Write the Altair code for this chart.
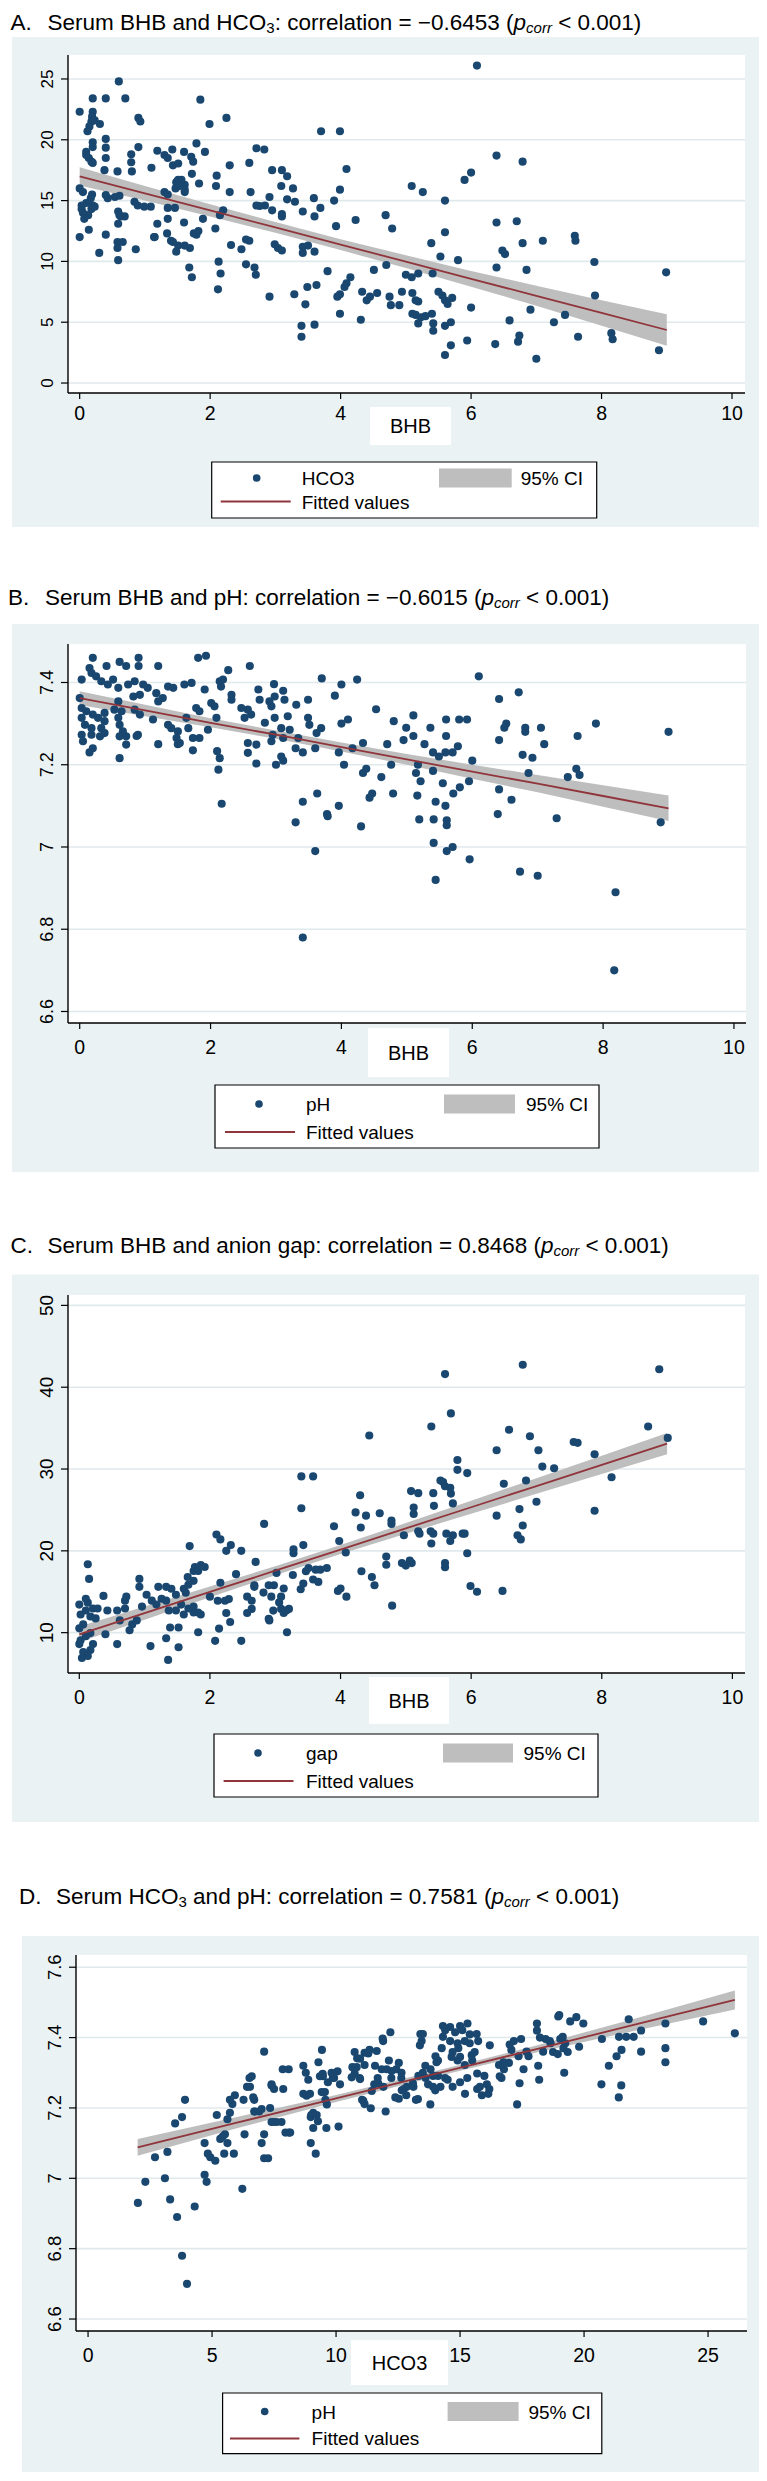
import altair as alt
import pandas as pd

FONT = "Liberation Sans, Arial, Helvetica, sans-serif"
NAVY = "#1a476f"
MAROON = "#90353b"
CI_GREY = "#bebebe"
BG = "#eaf2f3"
GRID = "#e0e9ec"

# ------------------------------------------------------------------ data
# Panel A: BHB (x) vs HCO3 (y)
A_PTS = [
(0.60,24.8),(0.20,23.4),(0.40,23.4),(0.70,23.4),(1.85,23.3),(0.0,22.3),
(0.2,22.3),(0.19,21.9),(0.18,21.5),(0.15,21.1),(0.12,20.7),(0.31,21.3),(0.23,21.6),
(0.9,21.8),(0.93,21.5),(1.99,21.3),(2.25,21.8),(3.7,20.7),(3.99,20.7),
(0.2,19.8),(0.2,19.4),(0.4,20.07),(0.4,19.35),(0.4,18.5),(0.9,19.4),(1.19,19.1),(1.42,19.2),(1.79,19.7),(1.92,19.0),(1.6,19.0),
(0.1,19.0),(0.1,18.75),(0.14,18.5),(0.18,18.2),(0.2,18.1),
(0.79,18.8),(0.79,18.15),(0.8,17.4),(1.1,17.7),
(1.3,18.75),(1.35,18.5),(1.43,17.9),(1.51,18.05),
(1.71,18.6),(1.74,18.2),(1.72,17.2),(1.83,16.4),
(1.61,16.3),(1.56,16.7),(1.5,16.6),(1.47,16.0),(1.61,15.7),
(0.58,17.4),(0.38,17.5),(2.3,17.9),(2.6,18.1),(2.71,19.3),(2.83,19.2),
(2.1,17.05),(2.09,16.2),(2.3,15.7),(2.62,15.7),(2.95,17.5),(3.1,17.5),(3.18,17.0),(3.09,16.2),(3.27,16.0),
(2.91,15.3),(2.84,14.6),(2.95,14.2),(2.71,14.6),(2.76,14.55),(3.18,15.1),(3.3,14.9),(3.1,13.9),(3.1,13.7),(3.42,14.1),(3.59,15.2),(3.69,14.4),(3.6,13.7),
(0.0,16.0),(0.05,15.7),
(0.03,14.6),(0.03,14.3),(0.05,14.0),(0.13,13.8),(0.07,13.5),(0.18,14.3),(0.2,14.6),(0.23,14.5),(0.19,15.5),(0.17,15.2),(0.1,14.8),
(0.4,15.45),(0.43,15.2),(0.54,15.3),(0.61,15.4),
(0.59,14.1),(0.63,13.7),(0.69,13.7),(0.59,13.1),(0.61,13.8),
(0.84,14.9),(0.89,14.6),(0.99,14.5),(1.09,14.5),
(1.3,15.7),(1.35,15.5),(1.35,14.4),(1.46,14.4),(1.51,16.7),(1.48,16.5),(1.53,16.2),(1.61,15.9),
(1.19,13.1),(1.15,12.0),(1.35,13.5),(1.34,12.3),(1.4,11.7),(1.43,11.6),(1.51,11.3),(1.48,10.8),(1.61,11.3),(1.6,13.2),
(1.69,11.1),(1.75,12.3),(1.79,12.2),(1.82,12.5),(1.89,13.5),(2.08,12.7),(2.15,13.8),(2.2,14.2),
(2.32,11.35),(2.48,11.0),(2.55,11.8),(2.6,11.7),(2.55,9.76),(2.68,9.5),(2.7,8.9),
(2.99,11.4),(3.04,11.1),(3.1,10.9),(3.42,11.2),(3.42,10.7),(3.5,11.3),(3.6,10.8),
(0.0,12.0),(0.14,12.6),(0.4,12.2),(0.3,10.7),(0.58,11.6),(0.66,11.6),(0.58,11.1),(0.59,10.1),(0.86,11.0),(1.14,12.0),
(1.68,9.5),(1.72,8.7),(2.13,9.98),(2.16,9.0),(2.12,7.7),(2.91,7.1),(3.29,7.3),(3.46,6.47),(3.49,7.9),(3.63,8.06),
(3.4,4.7),(3.6,4.8),(3.4,3.8),
(6.09,26.1),(6.39,18.7),(6.79,18.2),(4.09,17.6),(6.0,17.3),(5.9,16.7),(5.09,16.2),(5.26,15.7),(3.99,15.9),(3.9,15.0),
(5.6,15.0),(4.23,13.4),(4.69,13.8),(3.93,12.9),(4.79,12.7),(5.6,12.4),(6.39,13.2),(6.7,13.3),(6.79,11.5),(7.1,11.7),
(7.59,12.1),(7.6,11.7),(5.39,11.5),(5.53,10.4),(5.8,10.1),(6.48,10.9),(6.52,10.6),(6.39,9.5),(6.85,9.3),(7.89,9.95),
(8.99,9.1),(3.8,9.2),(4.51,9.3),(4.7,9.7),(4.15,8.7),(4.09,8.2),(4.06,7.9),(5.0,8.9),(5.09,8.7),(5.19,9.0),(5.41,9.0),
(4.33,7.5),(4.4,6.8),(4.45,7.1),(4.56,7.4),(3.99,7.3),(3.95,7.1),(4.75,7.1),(4.77,6.4),(4.9,6.4),(4.94,7.5),(5.1,7.4),
(5.15,6.8),(5.19,6.7),(5.5,7.5),(5.56,7.2),(5.6,6.8),(5.64,6.5),(5.71,7.0),(6.0,6.2),(6.91,6.03),(7.9,7.2),
(5.1,5.7),(5.15,5.6),(5.23,5.4),(5.3,5.5),(5.19,4.9),(5.4,5.7),(5.42,4.9),(5.42,4.3),(5.6,4.7),(5.69,5.0),
(5.6,2.3),(5.69,3.1),(5.94,3.5),(6.37,3.2),(6.59,5.15),(6.74,3.9),(6.72,3.4),(7.0,2.0),(7.27,5.0),(7.44,5.6),
(7.64,3.8),(8.15,4.1),(8.17,3.6),(8.88,2.7),(4.31,5.2),(3.99,5.7),
]
A_FIT_X = [0, 1, 2, 3, 4, 5, 6, 7, 8, 9]
A_FIT = [17.0, 15.6, 14.19, 12.79, 11.38, 9.98, 8.57, 7.17, 5.76, 4.36]
A_LO = [16.25, 15.0, 13.69, 12.35, 10.93, 9.46, 7.92, 6.35, 4.71, 3.06]
A_HI = [17.75, 16.2, 14.69, 13.23, 11.83, 10.5, 9.22, 7.99, 6.81, 5.66]

# Panel B: BHB (x) vs pH (y)
B_PTS = [
(0.2,7.46),(0.41,7.44),(0.61,7.45),(0.71,7.44),(0.9,7.46),(0.9,7.44),(1.2,7.44),(1.81,7.46),(1.93,7.465),(2.27,7.43),(2.6,7.44),(3.7,7.41),
(0.03,7.407),(0.15,7.435),(0.18,7.423),(0.25,7.415),(0.33,7.403),(0.43,7.395),(0.51,7.407),(0.59,7.387),(0.74,7.395),(0.84,7.403),
(0.97,7.395),(1.04,7.387),(0.92,7.37),(0.82,7.366),(1.17,7.374),(1.35,7.39),(1.43,7.387),(1.6,7.395),(1.71,7.399),(1.91,7.383),
(2.14,7.403),(2.19,7.407),(2.32,7.37),(2.32,7.358),(2.16,7.39),(2.73,7.383),(2.97,7.396),(3.11,7.38),(3.49,7.358),(2.98,7.366),(2.75,7.358),(3.13,7.358),
(0.0,7.362),(0.03,7.338),(0.10,7.33),(0.2,7.322),(0.28,7.314),(0.38,7.326),(0.03,7.314),(0.08,7.297),(0.18,7.289),(0.33,7.289),(0.38,7.306),
(0.03,7.273),(0.05,7.257),(0.18,7.273),(0.31,7.269),(0.38,7.277),(0.59,7.354),(0.64,7.33),(0.59,7.314),(0.61,7.297),(0.66,7.281),(0.71,7.269),
(0.61,7.269),(0.71,7.249),(0.53,7.334),(0.84,7.334),(0.92,7.322),(0.89,7.273),(1.12,7.31),(1.2,7.354),(1.27,7.362),(1.35,7.297),(1.4,7.289),
(1.5,7.281),(1.48,7.265),(1.53,7.253),(1.63,7.314),(1.66,7.289),(1.78,7.338),(1.83,7.33),(1.83,7.265),(1.73,7.265),(2.01,7.35),(2.06,7.342),
(2.09,7.314),(1.96,7.285),(2.52,7.314),(2.62,7.322),(2.57,7.334),(2.47,7.338),(2.9,7.354),(2.93,7.342),(2.98,7.314),(2.83,7.302),(2.95,7.273),
(3.18,7.318),(3.21,7.285),(3.08,7.289),(3.31,7.346),(3.49,7.314),(3.51,7.297),(3.69,7.289),(3.62,7.277),(2.93,7.257),(3.11,7.265),(3.34,7.265),
(0.15,7.23),(0.2,7.24),(0.61,7.216),(0.87,7.27),(1.2,7.25),(1.5,7.25),(1.73,7.235),(2.1,7.233),(2.14,7.216),(2.12,7.188),(2.17,7.105),
(2.57,7.253),(2.57,7.229),(2.7,7.249),(2.7,7.203),(3.08,7.22),(3.0,7.2),(3.11,7.21),(3.3,7.24),(3.41,7.23),(3.6,7.24),(3.41,7.11),
(3.63,7.13),(3.78,7.08),(3.3,7.06),(3.6,6.99),(3.41,6.78),
(4.0,7.395),(4.24,7.407),(3.9,7.368),(4.1,7.31),(4.0,7.3),(4.53,7.335),(4.8,7.306),(5.1,7.32),(4.99,7.29),(5.1,7.27),(4.95,7.26),
(4.7,7.25),(4.33,7.253),(4.17,7.24),(3.96,7.23),(4.04,7.2),(4.33,7.18),(4.38,7.19),(4.61,7.17),(4.76,7.2),(4.47,7.13),(4.43,7.12),
(4.79,7.13),(4.3,7.05),(3.79,7.075),(3.96,7.1),
(5.36,7.29),(5.27,7.25),(5.6,7.31),(5.6,7.27),(5.8,7.31),(5.92,7.31),(5.4,7.23),(5.49,7.22),(5.59,7.23),(5.7,7.23),(5.78,7.245),
(5.14,7.18),(5.21,7.16),(5.17,7.2),(5.55,7.155),(5.4,7.185),(5.16,7.125),(5.44,7.11),(5.59,7.1),(5.19,7.067),(5.41,7.067),
(5.61,7.065),(5.61,7.053),(5.41,7.01),(5.61,6.99),(5.7,7.0),(5.44,6.92),(5.71,7.13),(5.81,7.145),(5.95,7.16),(6.0,7.21),(5.96,6.97),
(6.1,7.415),(6.41,7.36),(6.71,7.376),(6.52,7.3),(6.49,7.29),(6.41,7.26),(6.81,7.29),(6.81,7.28),(7.05,7.29),(7.1,7.25),(6.77,7.224),
(6.92,7.217),(6.86,7.18),(6.41,7.14),(6.6,7.115),(6.39,7.08),(7.29,7.07),(6.73,6.94),(7.0,6.93),(7.89,7.3),(7.61,7.27),(7.59,7.19),
(7.64,7.175),(7.46,7.17),(9.0,7.28),(8.88,7.06),(8.19,6.89),(8.17,6.7),
]
B_FIT_X = [0, 1, 2, 3, 4, 5, 6, 7, 8, 9]
B_FIT = [7.362, 7.332, 7.302, 7.273, 7.243, 7.213, 7.183, 7.154, 7.124, 7.094]
B_LO = [7.345, 7.318, 7.291, 7.263, 7.232, 7.200, 7.166, 7.133, 7.098, 7.063]
B_HI = [7.379, 7.346, 7.313, 7.283, 7.254, 7.226, 7.200, 7.175, 7.150, 7.125]

# Panel C: BHB (x) vs anion gap (y)
C_PTS = [
(0.13,18.36),(0.15,16.57),(0.37,14.49),
(0.0,13.43),(0.02,12.22),(0.1,12.71),(0.17,11.98),(0.25,11.74),(0.06,11.01),(0.0,10.53),(0.21,12.95),(0.28,12.95),(0.13,13.67),(0.1,14.15),
(0.0,8.6),(0.06,7.63),(0.13,7.15),(0.04,6.91),(0.17,7.87),(0.21,8.6),(0.02,9.08),(0.1,9.57),(0.17,9.95),
(0.4,9.81),(0.43,12.71),(0.58,12.71),(0.7,12.95),(0.62,11.5),(0.58,8.6),(0.7,13.91),(0.72,14.4),
(0.81,11.01),(0.88,11.5),(0.77,10.29),(0.96,13.19),(0.92,16.57),(0.92,15.6),(1.03,14.64),(1.11,13.91),(1.18,13.43),(1.09,8.36),
(1.21,15.6),(1.26,14.15),(1.33,13.91),(1.37,12.71),(1.33,15.6),(1.41,15.36),(1.48,14.64),(1.56,13.43),(1.48,12.71),(1.6,12.22),
(1.33,9.32),(1.36,6.67),(1.52,8.21),(1.39,10.63),(1.52,10.63),(1.69,20.58),
(1.66,16.81),(1.75,17.54),(1.77,18.02),(1.82,17.54),(1.86,18.26),(1.92,18.02),(1.67,15.85),(1.75,16.33),(1.6,15.36),(1.63,14.88),
(1.82,10.05),(1.75,12.46),(1.82,12.46),(1.86,12.22),(1.75,13.19),(1.67,12.95),
(2.1,22.0),(2.16,21.4),(2.32,20.7),(2.25,20.0),(2.48,20.0),(2.4,17.15),(2.16,16.1),(2.0,14.4),(2.12,13.9),(2.23,13.9),(2.29,14.1),
(2.25,12.4),(2.31,11.3),(2.14,10.5),(2.08,9.0),(2.48,9.0),(2.7,18.65),(2.83,23.3),
(2.57,14.4),(2.64,13.9),(2.68,15.8),(2.57,12.4),(2.64,12.9),(2.68,15.6),(2.82,14.9),(2.9,15.8),
(2.94,14.4),(2.98,15.8),(2.91,11.5),(2.97,12.7),(3.06,13.7),(3.09,14.4),(3.13,15.4),(3.09,12.9),(3.13,12.4),(3.17,12.7),(3.21,12.9),
(3.02,17.3),(3.27,17.05),(3.28,19.7),(3.28,20.2),(3.18,10.05),(2.9,11.7),
(3.4,29.1),(3.58,29.1),(3.4,25.2),(3.43,20.7),
(3.39,15.3),(3.43,16.0),(3.47,17.5),(3.51,17.9),(3.58,16.5),(3.62,17.7),(3.66,16.2),(3.69,17.7),
(3.79,17.9),(3.9,23.0),(3.98,21.2),(3.96,15.1),(4.0,15.4),(4.09,14.4),(4.08,19.8),(4.23,24.7),(4.3,26.8),(4.44,34.1),(4.39,24.3),
(4.31,22.85),(4.32,17.5),(4.48,16.8),(4.52,15.8),(4.6,24.6),(4.7,19.3),(4.7,18.3),(4.78,23.7),(4.78,23.3),(4.79,13.3),
(4.94,18.5),(5.0,18.2),(5.09,18.5),(5.06,18.8),(4.97,21.9),(5.08,27.3),(5.12,25.3),(5.12,24.5),(5.19,27.05),(5.19,22.4),(5.21,22.1),
(5.38,22.4),(5.39,20.9),(5.42,22.1),(5.39,35.2),(5.42,27.05),(5.43,25.5),(5.53,28.6),(5.57,28.4),(5.6,27.9),(5.6,41.6),(5.6,18.5),
(5.6,18.0),(5.62,22.1),(5.68,21.2),(5.72,21.9),(5.69,36.8),(5.68,27.7),(5.69,27.0),(5.72,25.8),(5.79,31.1),(5.79,29.9),(5.87,22.1),
(5.9,22.1),(5.94,29.5),(5.94,19.7),(5.99,15.7),(6.09,15.0),
(6.39,32.3),(6.39,24.3),(6.5,28.2),(6.48,15.1),(6.58,34.8),(6.74,25.1),(6.71,21.9),(6.76,21.4),(6.79,23.1),(6.79,42.75),(6.84,28.6),
(6.9,34.0),(7.0,26.0),(7.03,32.3),(7.09,30.3),(7.27,30.1),(7.57,33.3),(7.63,33.2),(7.89,31.8),(7.89,24.9),(8.15,29.0),(8.71,35.2),
(8.88,42.2),(9.01,33.8),
]
C_FIT_X = [0, 1, 2, 3, 4, 5, 6, 7, 8, 9]
C_FIT = [9.8, 12.39, 14.98, 17.57, 20.16, 22.75, 25.33, 27.92, 30.51, 33.1]
C_LO = [8.85, 11.59, 14.33, 17.02, 19.61, 22.1, 24.53, 26.97, 29.39, 31.8]
C_HI = [10.75, 13.19, 15.63, 18.12, 20.71, 23.4, 26.13, 28.87, 31.63, 34.4]

# Panel D: HCO3 (x) vs pH (y)
D_PTS = [
(2.01,6.93),(2.31,6.99),(2.7,7.06),(3.1,7.0),(3.2,7.075),(3.31,6.94),(3.51,7.156),(3.59,6.89),(3.79,7.174),(3.79,6.78),(3.91,7.223),
(3.99,6.7),(4.3,6.92),(4.7,7.01),(4.78,6.99),(4.7,7.1),(4.83,7.07),(4.93,7.06),(5.13,7.05),(5.19,7.18),
(5.33,7.112),(5.43,7.119),(5.62,7.1),(5.52,7.125),(5.49,7.07),(5.88,7.07),
(5.62,7.168),(5.72,7.186),(5.82,7.211),(5.72,7.223),(5.92,7.236),
(6.22,6.97),(6.31,7.125),(6.41,7.26),(6.51,7.285),(6.27,7.223),(6.7,7.223),(6.7,7.19),(6.9,7.19),(7.1,7.36),(7.0,7.1),(7.1,7.125),
(7.1,7.057),(7.26,7.057),(7.4,7.267),(7.5,7.254),(7.4,7.16),(7.6,7.16),(7.8,7.16),(7.85,7.31),(8.09,7.31),(8.15,7.13),(8.68,7.32),
(8.78,7.3),(8.88,7.28),(8.98,7.1),(9.18,7.07),(9.08,7.186),(8.98,7.174),(9.08,7.143),(9.27,7.162),
(9.43,7.365),(9.47,7.29),(9.57,7.223),(9.63,7.21),(9.67,7.273),(9.87,7.285),(10.06,7.304),(10.16,7.267),(9.61,7.143),(10.1,7.147),
(10.66,7.316),(10.75,7.298),(10.95,7.285),(10.85,7.341),(11.15,7.322),(10.75,7.359),(11.15,7.357),(11.35,7.365),(11.64,7.362),
(11.05,7.223),(11.15,7.211),(11.4,7.199),(11.44,7.248),(11.54,7.267),(11.88,7.397),(12.19,7.415),(12.0,7.19),
(11.68,7.285),(11.84,7.31),(12.13,7.335),(12.23,7.285),(12.53,7.328),(12.43,7.31),(12.63,7.285),
(12.39,7.23),(12.53,7.226),(12.83,7.236),(13.12,7.26),(12.73,7.254),(13.22,7.223),
(13.32,7.291),(13.61,7.285),(13.71,7.267),(13.38,7.378),(13.3,7.225),(13.8,7.21),(13.4,7.41),(13.5,7.41),
(13.81,7.31),(13.91,7.291),(14.11,7.335),(14.01,7.347),(14.31,7.402),(14.31,7.433),(14.4,7.421),(14.6,7.39),(14.7,7.359),(14.8,7.415),
(14.9,7.384),(15.0,7.433),(15.09,7.421),(15.19,7.39),(14.9,7.335),(15.19,7.322),(15.29,7.285),(15.0,7.273),(14.7,7.26),(14.4,7.285),
(14.21,7.26),(14.11,7.291),(13.91,7.26),(15.3,7.44),
(15.39,7.409),(15.49,7.335),(15.59,7.359),(15.39,7.384),(15.69,7.298),(15.2,7.24),
(15.69,7.254),(15.88,7.236),(16.08,7.267),(15.98,7.291),(16.18,7.254),(16.2,7.378),
(16.57,7.322),(16.67,7.285),(16.77,7.31),(16.97,7.328),(17.07,7.365),(17.17,7.39),(17.46,7.396),(17.36,7.347),
(17.3,7.21),(17.4,7.27),(17.56,7.31),(17.76,7.347),(18.1,7.44),(18.1,7.42),(18.15,7.32),(18.19,7.28),
(18.45,7.396),(18.65,7.384),(18.75,7.359),(18.94,7.353),(19.04,7.396),(19.0,7.464),(19.14,7.402),(19.34,7.359),(19.24,7.384),
(19.2,7.3),(19.44,7.446),(19.69,7.458),(19.97,7.44),(19.8,7.374),(20.7,7.267),(20.72,7.396),(21.0,7.32),
(21.31,7.347),(21.51,7.365),(21.41,7.402),(21.4,7.23),(21.5,7.264),(21.7,7.402),(22.0,7.402),(21.8,7.452),
(22.3,7.36),(22.3,7.42),(23.28,7.44),(23.28,7.37),(23.28,7.33),(24.8,7.446),(26.08,7.412),
(9.29,7.33),(9.35,7.29),(9.46,7.297),(9.82,7.3),(9.92,7.285),(8.68,7.24),(8.81,7.235),(8.95,7.24),(9.42,7.245),(9.55,7.245),
(7.87,7.254),(7.4,7.264),(6.66,7.23),(6.6,7.29),(6.53,7.26),(7.0,7.197),(6.73,7.19),(7.34,7.2),(7.47,7.16),(9.0,7.18),(9.22,7.18),
(7.96,7.13),(8.1,7.13),(10.97,7.34),(11.3,7.355),(10.83,7.316),(10.63,7.287),(10.97,7.282),(11.57,7.32),(11.9,7.39),(12.04,7.31),
(12.24,7.305),(12.64,7.3),(11.7,7.27),(11.91,7.26),(11.1,7.22),(12.65,7.25),(12.85,7.26),(13.1,7.27),(13.5,7.3),(13.6,7.32),
(13.45,7.39),(14.05,7.33),(14.0,7.25),(14.5,7.28),(14.6,7.43),(14.26,7.37),(14.66,7.345),(14.93,7.37),(15.0,7.345),(15.67,7.41),
(15.73,7.39),(15.47,7.35),(15.8,7.26),(16.14,7.24),(16.75,7.33),(17.0,7.38),(17.68,7.36),(18.22,7.4),(18.35,7.36),(18.62,7.39),
(16.6,7.29),(18.96,7.46),(19.17,7.37),
]
D_FIT_X = [2, 6, 10, 14, 18, 22, 26.08]
D_FIT = [7.088, 7.158, 7.227, 7.297, 7.366, 7.436, 7.507]
D_LO = [7.064, 7.142, 7.217, 7.289, 7.356, 7.419, 7.480]
D_HI = [7.112, 7.174, 7.237, 7.305, 7.376, 7.453, 7.534]

BHB_TICKS = [0, 2, 4, 6, 8, 10]
HCO3_TICKS_X = [0, 5, 10, 15, 20, 25]
HCO3_TICKS_Y = [0, 5, 10, 15, 20, 25]
PH_TICKS_B = [6.6, 6.8, 7.0, 7.2, 7.4]
GAP_TICKS = [10, 20, 30, 40, 50]
PH_TICKS_D = [6.6, 6.8, 7.0, 7.2, 7.4, 7.6]

TITLES = {
    "A": ("A.", [("Serum BHB and HCO", 22.5, False, 0), ("3", 15, False, 5),
                 (": correlation = \u22120.6453 (", 22.5, False, 0), ("p", 22.5, True, 0),
                 ("corr", 15, True, 5), (" < 0.001)", 22.5, False, 0)]),
    "B": ("B.", [("Serum BHB and pH: correlation = \u22120.6015 (", 22.5, False, 0), ("p", 22.5, True, 0),
                 ("corr", 15, True, 5), (" < 0.001)", 22.5, False, 0)]),
    "C": ("C.", [("Serum BHB and anion gap: correlation = 0.8468 (", 22.5, False, 0), ("p", 22.5, True, 0),
                 ("corr", 15, True, 5), (" < 0.001)", 22.5, False, 0)]),
    "D": ("D.", [("Serum HCO", 22.5, False, 0), ("3", 15, False, 5),
                 (" and pH: correlation = 0.7581 (", 22.5, False, 0), ("p", 22.5, True, 0),
                 ("corr", 15, True, 5), (" < 0.001)", 22.5, False, 0)]),
}

# ------------------------------------------------------------------ helpers
ONE = pd.DataFrame({"k": [0]})

CW = {' ': 278, '.': 278, ':': 278, '(': 333, ')': 333, '<': 584, '=': 584, '\u2212': 584,
      'A': 667, 'B': 667, 'C': 722, 'D': 722, 'H': 722, 'O': 778, 'S': 667,
      'a': 556, 'c': 500, 'd': 556, 'e': 556, 'g': 556, 'i': 222, 'l': 222, 'm': 833,
      'n': 556, 'o': 556, 'p': 556, 'r': 333, 't': 278, 'u': 556}


def tw(s, size):
    return sum(CW.get(c, 556) for c in s) * size / 1000.0


def txt(x, y, s, size, align="left", italic=False, dy=0):
    kw = dict(text=s, font=FONT, fontSize=size, align=align, baseline="middle", color="black")
    if italic:
        kw["fontStyle"] = "italic"
    if dy:
        kw["dy"] = dy
    return alt.Chart(ONE).mark_text(**kw).encode(x=alt.value(x), y=alt.value(y))


def box(x1, x2, y1, y2, fill, stroke=None, opacity=1):
    if stroke:
        m = alt.Chart(ONE).mark_rect(color=fill, stroke=stroke, strokeWidth=1.2)
    else:
        m = alt.Chart(ONE).mark_rect(color=fill, strokeWidth=0, opacity=opacity)
    return m.encode(x=alt.value(x1), x2=alt.value(x2), y=alt.value(y1), y2=alt.value(y2))


def vrule(x, y1, y2, color="black", sw=1.4):
    return alt.Chart(ONE).mark_rule(color=color, strokeWidth=sw).encode(
        x=alt.value(x), y=alt.value(y1), y2=alt.value(y2))


def hrule(x1, x2, y, color="black", sw=1.4):
    return alt.Chart(ONE).mark_rule(color=color, strokeWidth=sw).encode(
        x=alt.value(x1), x2=alt.value(x2), y=alt.value(y))


def title_layers(key, x0, yc):
    label, segs = TITLES[key]
    out = [txt(x0, yc, label, 22.5)]
    x = x0 + 37
    for s, size, it, dy in segs:
        lead = len(s) - len(s.lstrip(" "))
        out.append(txt(x + tw(" " * lead, size), yc, s.strip(), size, italic=it, dy=dy))
        x += tw(s, size)
    return out


def panel(pts, fx, fy, flo, fhi, c):
    xs = alt.Scale(domain=c["xdom"], range=[c["px1"], c["px2"]], nice=False, zero=False)
    ys = alt.Scale(domain=c["ydom"], nice=False, zero=False)
    W, H, px1, px2 = c["W"], c["H"], c["px1"], c["px2"]
    pts_df = pd.DataFrame(pts, columns=["x", "y"])
    fit_df = pd.DataFrame({"x": fx, "fit": fy, "lo": flo, "hi": fhi})
    yt_df = pd.DataFrame({"t": c["yt"], "lab": [f"{v:g}" for v in c["yt"]]})
    xt_df = pd.DataFrame({"t": c["xt"], "lab": [f"{v:g}" for v in c["xt"]]})

    L = c["leg"]
    layers = [
        box(*c["bg"], BG),
        box(px1, px2, 0, H, "white"),
        # horizontal grid
        alt.Chart(yt_df).mark_rule(color=GRID, strokeWidth=1.6).encode(
            y=alt.Y("t:Q", scale=ys, axis=None), x=alt.value(px1), x2=alt.value(px2)),
        # confidence band, scatter, fitted line
        alt.Chart(fit_df).mark_area(color=CI_GREY, opacity=1).encode(
            x=alt.X("x:Q", scale=xs, axis=None), y=alt.Y("lo:Q", scale=ys, axis=None), y2="hi:Q"),
        alt.Chart(pts_df).mark_circle(size=66, color=NAVY, opacity=1).encode(
            x=alt.X("x:Q", scale=xs, axis=None), y=alt.Y("y:Q", scale=ys, axis=None)),
        alt.Chart(fit_df).mark_line(color=MAROON, strokeWidth=1.8).encode(
            x=alt.X("x:Q", scale=xs, axis=None), y=alt.Y("fit:Q", scale=ys, axis=None)),
        # axes
        hrule(px1, px2, H),
        vrule(px1, 0, H),
        alt.Chart(xt_df).mark_rule(color="black", strokeWidth=1.2).encode(
            x=alt.X("t:Q", scale=xs, axis=None), y=alt.value(H), y2=alt.value(H + 6)),
        alt.Chart(xt_df).mark_text(font=FONT, fontSize=19.5, baseline="top", align="center",
                                   color="black").encode(
            x=alt.X("t:Q", scale=xs, axis=None), y=alt.value(H + c["xlab_dy"]), text="lab:N"),
        alt.Chart(yt_df).mark_rule(color="black", strokeWidth=1.2).encode(
            y=alt.Y("t:Q", scale=ys, axis=None), x=alt.value(px1 - 7), x2=alt.value(px1)),
        alt.Chart(yt_df).mark_text(font=FONT, fontSize=c["ylab_fs"], baseline="alphabetic",
                                   align="center", angle=270, color="black").encode(
            y=alt.Y("t:Q", scale=ys, axis=None), x=alt.value(px1 - 15.5), text="lab:N"),
        # x-axis title in its white box
        box(*c["xbox"], "white"),
        txt((c["xbox"][0] + c["xbox"][1]) / 2, (c["xbox"][2] + c["xbox"][3]) / 2 + 1,
            c["xlabel"], 20, align="center"),
        # legend
        box(L["x1"], L["x2"], L["y1"], L["y2"], "white", stroke="black"),
        alt.Chart(ONE).mark_circle(size=58, color=NAVY, opacity=1).encode(
            x=alt.value(L["dot"]), y=alt.value(L["r1"])),
        txt(L["tx"], L["r1"] + 1, c["ylabel"], 19),
        box(L["gx1"], L["gx2"], L["r1"] - 9.5, L["r1"] + 9.5, CI_GREY),
        txt(L["cix"], L["r1"] + 1, "95% CI", 19),
        hrule(L["lx1"], L["lx2"], L["r2"], color=MAROON, sw=2),
        txt(L["tx"], L["r2"] + 1, "Fitted values", 19),
    ] + title_layers(c["key"], c["tx0"], c["ty"])
    if c.get("anchor") is not None:
        layers.append(box(c["tx0"], c["tx0"] + 5, c["anchor"], c["anchor"] + 1, "white", opacity=0))
    return alt.layer(*layers).properties(width=W, height=H)


def spacer(h):
    return alt.Chart(ONE).mark_point(opacity=0).encode(
        x=alt.value(0), y=alt.value(0)).properties(width=1, height=h)


CFG_A = dict(key="A", W=677, H=338, px1=0, px2=677, xdom=[-0.179, 10.199], ydom=[-0.82, 26.97],
             xt=BHB_TICKS, yt=HCO3_TICKS_Y, xlab_dy=12, ylab_fs=17, bg=(-56, 691, -18, 472),
             tx0=-57.5, ty=-32, anchor=-47, xlabel="BHB", ylabel="HCO3", xbox=(302, 383, 352, 390),
             leg=dict(x1=143.7, x2=528.7, y1=407, y2=463, r1=423, r2=446.5, dot=188.7, tx=233.7,
                      gx1=371, gx2=443.7, cix=452.7, lx1=152.7, lx2=222.7))
CFG_B = dict(key="B", W=678, H=379, px1=0, px2=678, xdom=[-0.179, 10.184], ydom=[6.572, 7.4936],
             xt=BHB_TICKS, yt=PH_TICKS_B, xlab_dy=15.5, ylab_fs=18, bg=(-56, 691, -20, 528),
             tx0=-60, ty=-46.4, xlabel="BHB", ylabel="pH", xbox=(300, 381, 384, 433),
             leg=dict(x1=147, x2=531, y1=441, y2=504, r1=460, r2=488, dot=191, tx=238,
                      gx1=376, gx2=447, cix=458, lx1=157, lx2=227))
CFG_C = dict(key="C", W=677, H=378, px1=0, px2=677, xdom=[-0.173, 10.193], ydom=[5.07, 51.27],
             xt=BHB_TICKS, yt=GAP_TICKS, xlab_dy=15.5, ylab_fs=19, bg=(-56, 691, -20.4, 527),
             tx0=-57.5, ty=-49, xlabel="BHB", ylabel="gap", xbox=(301, 381, 382, 429),
             leg=dict(x1=146, x2=530, y1=439, y2=502, r1=458, r2=486, dot=190, tx=238,
                      gx1=375, gx2=445, cix=455.5, lx1=155.6, lx2=225.5))
CFG_D = dict(key="D", W=679, H=376, px1=8, px2=679, xdom=[-0.486, 26.57], ydom=[6.566, 7.6347],
             xt=HCO3_TICKS_X, yt=PH_TICKS_D, xlab_dy=15.5, ylab_fs=18.5, bg=(-46, 691, -19, 517),
             tx0=-49, ty=-58.5, xlabel="HCO3", ylabel="pH", xbox=(283, 380, 385, 430),
             leg=dict(x1=154.6, x2=533.8, y1=438, y2=498.6, r1=456.5, r2=483.4, dot=196.7, tx=243.6,
                      gx1=379.6, gx2=450.6, cix=460.4, lx1=162, lx2=231.4))

pA = panel(A_PTS, A_FIT_X, A_FIT, A_LO, A_HI, CFG_A)
pB = panel(B_PTS, B_FIT_X, B_FIT, B_LO, B_HI, CFG_B)
pC = panel(C_PTS, C_FIT_X, C_FIT, C_LO, C_HI, CFG_C)
pD = panel(D_PTS, D_FIT_X, D_FIT, D_LO, D_HI, CFG_D)

chart = alt.vconcat(pA, spacer(251), pB, spacer(272), pC, spacer(282), pD,
                    spacing=0, bounds="flush").properties(
    padding=0, background="white").configure_view(strokeWidth=0)

chart.save("out.html", embed_options={"renderer": "svg", "actions": False})
